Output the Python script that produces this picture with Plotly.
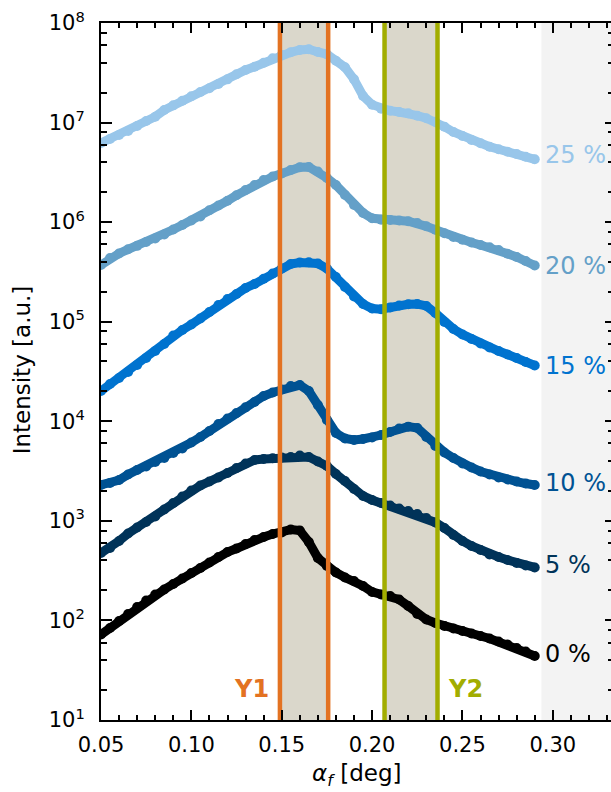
import numpy as np
import plotly.graph_objects as go

# Exit angle grid [deg]
alpha_f = [0.050, 0.055, 0.060, 0.065, 0.070, 0.075, 0.080, 0.085, 0.090, 0.095,
           0.100, 0.105, 0.110, 0.115, 0.120, 0.125, 0.130, 0.135, 0.140, 0.145,
           0.150, 0.155, 0.160, 0.165, 0.170, 0.175, 0.180, 0.185, 0.190, 0.195,
           0.200, 0.205, 0.210, 0.215, 0.220, 0.225, 0.230, 0.235, 0.240, 0.245,
           0.250, 0.255, 0.260, 0.265, 0.270, 0.275, 0.280, 0.285, 0.290]

# Vertical line cuts, log10 of the intensity [a.u.]
log_i_0 = [1.859, 1.924, 1.994, 2.065, 2.135, 2.200, 2.260, 2.311, 2.366, 2.421,
           2.476, 2.527, 2.582, 2.637, 2.687, 2.722, 2.768, 2.808, 2.838, 2.868,
           2.883, 2.913, 2.903, 2.788, 2.627, 2.547, 2.481, 2.431, 2.396, 2.346,
           2.286, 2.260, 2.245, 2.210, 2.145, 2.065, 2.009, 1.974, 1.944, 1.919,
           1.894, 1.869, 1.844, 1.819, 1.788, 1.758, 1.723, 1.688, 1.643]
log_i_5 = [2.677, 2.727, 2.798, 2.873, 2.933, 2.989, 3.044, 3.114, 3.179, 3.245,
           3.305, 3.355, 3.395, 3.435, 3.481, 3.531, 3.576, 3.611, 3.621, 3.628,
           3.636, 3.641, 3.656, 3.641, 3.596, 3.551, 3.471, 3.400, 3.320, 3.250,
           3.210, 3.179, 3.154, 3.124, 3.099, 3.069, 3.029, 2.984, 2.928, 2.858,
           2.798, 2.748, 2.707, 2.662, 2.637, 2.607, 2.577, 2.552, 2.532]
log_i_10 = [3.360, 3.380, 3.410, 3.466, 3.511, 3.546, 3.591, 3.631, 3.681, 3.727,
            3.787, 3.842, 3.902, 3.973, 4.028, 4.083, 4.140, 4.194, 4.254, 4.289,
            4.319, 4.354, 4.364, 4.304, 4.164, 4.013, 3.882, 3.827, 3.812, 3.822,
            3.837, 3.862, 3.892, 3.928, 3.946, 3.933, 3.842, 3.752, 3.687, 3.631,
            3.576, 3.536, 3.496, 3.466, 3.435, 3.415, 3.395, 3.375, 3.360]
log_i_15 = [4.304, 4.375, 4.435, 4.495, 4.565, 4.636, 4.706, 4.776, 4.862, 4.917,
            4.972, 5.032, 5.098, 5.168, 5.228, 5.278, 5.339, 5.379, 5.432, 5.484,
            5.534, 5.580, 5.595, 5.597, 5.585, 5.534, 5.449, 5.349, 5.253, 5.178,
            5.133, 5.125, 5.143, 5.163, 5.175, 5.178, 5.158, 5.088, 4.997, 4.927,
            4.872, 4.826, 4.781, 4.741, 4.706, 4.671, 4.636, 4.595, 4.560]
log_i_20 = [5.570, 5.640, 5.685, 5.727, 5.762, 5.801, 5.836, 5.876, 5.926, 5.971,
            6.017, 6.057, 6.119, 6.167, 6.215, 6.270, 6.323, 6.373, 6.423, 6.458,
            6.489, 6.524, 6.551, 6.554, 6.509, 6.443, 6.373, 6.273, 6.172, 6.092,
            6.039, 6.025, 6.022, 6.017, 6.009, 5.991, 5.958, 5.924, 5.888, 5.851,
            5.824, 5.796, 5.770, 5.747, 5.720, 5.683, 5.650, 5.610, 5.565]
log_i_25 = [6.795, 6.835, 6.875, 6.915, 6.966, 7.016, 7.059, 7.126, 7.173, 7.220,
            7.264, 7.307, 7.344, 7.387, 7.434, 7.485, 7.528, 7.561, 7.601, 7.645,
            7.679, 7.706, 7.729, 7.736, 7.709, 7.686, 7.621, 7.555, 7.434, 7.267,
            7.180, 7.139, 7.119, 7.106, 7.093, 7.069, 7.043, 7.009, 6.959, 6.905,
            6.865, 6.825, 6.792, 6.758, 6.732, 6.708, 6.684, 6.657, 6.631]

series_labels = ["0 %", "5 %", "10 %", "15 %", "20 %", "25 %"]
series_logs = [log_i_0, log_i_5, log_i_10, log_i_15, log_i_20, log_i_25]
series_colors = ["#000000", "#003359", "#005293", "#0073CF", "#64A0C8", "#98C6EA"]

# Yoneda regions (alpha_f ranges)
y1_band = [0.149, 0.1757]
y2_band = [0.2069, 0.2362]
shaded_from = 0.2937

x_range = [0.05, 0.3322]
x_ticks = [0.05, 0.10, 0.15, 0.20, 0.25, 0.30]
y_range = [1e1, 1e8]
y_ticks = [1e1, 1e2, 1e3, 1e4, 1e5, 1e6, 1e7, 1e8]
y_ticktext = ["10<sup>%d</sup>" % k for k in range(1, 9)]
y_minor = [m * 10.0 ** k for k in range(1, 8) for m in (2, 4, 6, 8)]

ORANGE = "#E37222"
GREEN = "#A2AD00"
IVORY = "#DAD7CB"
FONT = "DejaVu Sans"

fig = go.Figure()

for lab, logs, col in zip(series_labels, series_logs, series_colors):
    fig.add_trace(go.Scatter(
        x=alpha_f, y=10.0 ** np.array(logs), mode="lines+markers", name=lab,
        line=dict(color=col, width=9), marker=dict(color=col, size=10),
        hoverinfo="skip", showlegend=False))

# region edges drawn over the curves
for edges, col in ((y1_band, ORANGE), (y2_band, GREEN)):
    for e in edges:
        fig.add_trace(go.Scatter(
            x=[e, e], y=y_range, mode="lines", line=dict(color=col, width=4.5),
            hoverinfo="skip", showlegend=False))

# invisible trace so the right-hand tick axis is drawn
fig.add_trace(go.Scatter(x=[None], y=[None], yaxis="y2", showlegend=False,
                         hoverinfo="skip"))

shapes = []
for edges in (y1_band, y2_band):
    shapes.append(dict(type="rect", xref="x", yref="paper", x0=edges[0], x1=edges[1],
                       y0=0, y1=1, fillcolor=IVORY, line=dict(width=0), layer="below"))
shapes.append(dict(type="rect", xref="x", yref="paper", x0=shaded_from, x1=x_range[1],
                   y0=0, y1=1, fillcolor="#F3F3F3", line=dict(width=0), layer="below"))

label_y = [0.0947, 0.2217, 0.3400, 0.5079, 0.6514, 0.8113]
annotations = []
for lab, col, yy in zip(series_labels, series_colors, label_y):
    annotations.append(dict(text=lab, xref="x", x=0.2945, yref="paper", y=yy,
                            xanchor="left", yanchor="middle", showarrow=False,
                            font=dict(family=FONT, size=24, color=col)))
annotations.append(dict(text="<b>Y1</b>", xref="x", x=y1_band[0], xshift=-9,
                        yref="paper", y=0.0445, xanchor="right", yanchor="middle",
                        showarrow=False, font=dict(family=FONT, size=24, color=ORANGE)))
annotations.append(dict(text="<b>Y2</b>", xref="x", x=y2_band[1], xshift=8,
                        yref="paper", y=0.0445, xanchor="left", yanchor="middle",
                        showarrow=False, font=dict(family=FONT, size=24, color=GREEN)))
annotations.append(dict(text="Intensity [a.u.]", xref="paper", x=-0.155, yref="paper",
                        y=0.503, xanchor="center", yanchor="middle", textangle=-90,
                        showarrow=False, font=dict(family=FONT, size=23, color="black")))
annotations.append(dict(text="<i>α</i><sub><i>f</i></sub> [deg]", xref="paper", x=0.5,
                        yref="paper", y=-0.079, xanchor="center", yanchor="middle",
                        showarrow=False, font=dict(family=FONT, size=23, color="black")))

tick_font = dict(family=FONT, size=21, color="black")

fig.update_layout(
    width=611, height=792,
    margin=dict(l=101, r=0, t=23, b=72),
    paper_bgcolor="white", plot_bgcolor="white",
    showlegend=False,
    font=dict(family=FONT, color="black"),
    shapes=shapes, annotations=annotations,
    xaxis=dict(range=x_range, tickmode="array", tickvals=x_ticks, tickformat=".2f",
               ticks="inside", ticklen=10, tickwidth=1.7, tickcolor="black",
               showline=True, linewidth=2, linecolor="black", mirror="ticks",
               showgrid=False, zeroline=False, tickfont=tick_font,
               ticklabelstandoff=5,
               minor=dict(tickmode="linear", tick0=0.05, dtick=0.01, ticks="inside",
                          ticklen=5, tickwidth=1.5, tickcolor="black", showgrid=False)),
    yaxis=dict(type="log", range=[1, 8], tickmode="array", tickvals=y_ticks,
               ticktext=y_ticktext, ticks="inside", ticklen=11, tickwidth=1.7,
               tickcolor="black", showline=True, linewidth=2, linecolor="black",
               mirror=False, showgrid=False, zeroline=False, tickfont=tick_font,
               ticklabelstandoff=10,
               minor=dict(tickmode="array", tickvals=y_minor, ticks="inside",
                          ticklen=6, tickwidth=1.5, tickcolor="black", showgrid=False)),
    yaxis2=dict(type="log", range=[1, 8], overlaying="y", side="right",
                tickmode="array", tickvals=y_ticks, showticklabels=False,
                ticks="inside", ticklen=6, tickwidth=1.7, tickcolor="black",
                showline=False, showgrid=False, zeroline=False,
                minor=dict(tickmode="array", tickvals=y_minor, ticks="inside",
                           ticklen=3, tickwidth=1.5, tickcolor="black", showgrid=False)),
)

fig.write_html("out.html")
